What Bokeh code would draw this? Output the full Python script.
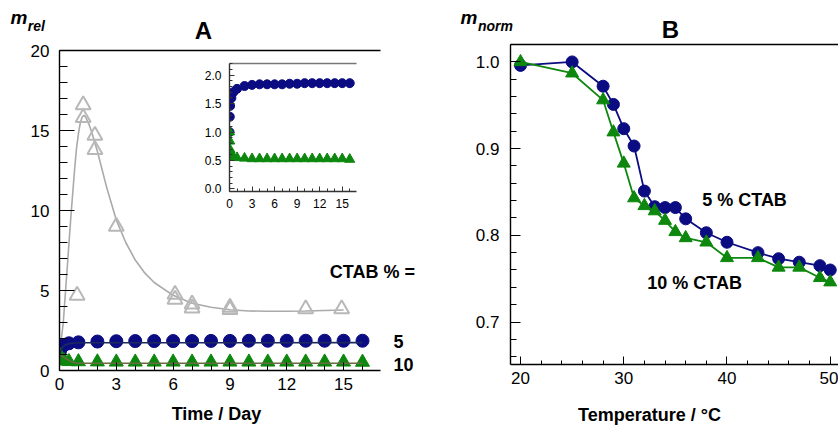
from bokeh.plotting import figure
from bokeh.layouts import column
from bokeh.models import (LinearAxis, Label, SingleIntervalTicker, FixedTicker,
                          PrintfTickFormatter, Range1d, GridBox)
from bokeh.embed import file_html
from bokeh.resources import INLINE

FONT = "Liberation Sans"

# ---------------- Panel A data (m_rel vs time) ----------------
days_ctab5 = [0, 0.04, 0.08, 0.25, 0.5, 1, 2, 3, 4, 5, 6, 7, 8, 9, 10, 11, 12, 13, 14, 15, 16]
mrel_ctab5 = [1.0, 1.27, 1.46, 1.6, 1.7, 1.76, 1.81, 1.83, 1.84, 1.84, 1.84, 1.84, 1.85, 1.85,
              1.86, 1.86, 1.86, 1.86, 1.86, 1.86, 1.86]
days_ctab10 = [0, 0.04, 0.08, 0.25, 0.5, 1, 2, 3, 4, 5, 6, 7, 8, 9, 10, 11, 12, 13, 14, 15, 16]
mrel_ctab10 = [1.0, 0.84, 0.69, 0.6, 0.56, 0.55, 0.54, 0.53, 0.53, 0.53, 0.53, 0.53, 0.53, 0.53,
               0.53, 0.53, 0.53, 0.53, 0.53, 0.53, 0.52]
days_ctab0 = [0, 0.93, 1.25, 1.25, 1.87, 1.87, 3.0, 6.1, 6.1, 7.0, 7.0, 9.0, 9.0, 13.0, 14.9]
mrel_ctab0 = [1.0, 4.7, 16.6, 15.8, 14.7, 13.8, 9.0, 4.75, 4.45, 4.15, 3.9, 3.95, 3.8, 3.85, 3.85]

fit_days_ctab0 = [0, 0.2, 0.4, 0.6, 0.8, 0.9, 1.0, 1.1, 1.2, 1.3, 1.4, 1.55, 1.7, 2.0, 2.5, 3.0,
                  3.5, 4.0, 4.5, 5.0, 6.0, 7.0, 8.0, 9.0, 10.0, 11.0, 12.0, 13.0, 14.0, 15.0]
fit_mrel_ctab0 = [1.0, 3.0, 6.3, 9.6, 12.6, 13.9, 14.8, 15.5, 15.85, 15.95, 15.8, 15.4, 14.9, 13.7,
                  11.4, 9.4, 8.0, 6.9, 6.1, 5.5, 4.7, 4.2, 3.95, 3.8, 3.72, 3.7, 3.7, 3.72, 3.75, 3.78]
fit_days_ctab5 = [0, 0.1, 0.2, 0.3, 0.5, 0.8, 1.2, 16]
fit_mrel_ctab5 = [1.0, 1.3, 1.5, 1.6, 1.68, 1.72, 1.73, 1.74]
fit_days_ctab10 = [0, 0.2, 0.4, 0.6, 0.8, 1.0, 16]
fit_mrel_ctab10 = [1.0, 0.85, 0.7, 0.57, 0.48, 0.45, 0.45]

# ---------------- Panel B data (m_norm vs temperature) ----------------
temp_ctab5 = [20, 25, 28, 29, 30, 31, 32, 33, 34, 35, 36, 38, 40, 43, 45, 47, 49, 50]
mnorm_ctab5 = [0.996, 1.0, 0.972, 0.951, 0.923, 0.903, 0.851, 0.833, 0.832, 0.832, 0.819, 0.803,
               0.792, 0.780, 0.773, 0.769, 0.765, 0.760]
temp_ctab10 = [20, 25, 28, 29, 30, 31, 32, 33, 34, 35, 36, 38, 40, 43, 45, 47, 49, 50]
mnorm_ctab10 = [1.0, 0.987, 0.956, 0.919, 0.883, 0.843, 0.834, 0.828, 0.817, 0.804, 0.797, 0.792,
                0.774, 0.774, 0.763, 0.763, 0.751, 0.746]

inset_y_labels = {0: "0.0", 0.5: "0.5", 1: "1.0", 1.5: "1.5", 2: "2.0"}

NAVY = "#0b0b82"
GREEN = "#0d870d"
GRAY = "#b8b8b8"
FIT5 = "#1c2a5c"
FIT10 = "#6b6a45"


def style_axis(ax, major_in, minor_in, size, standoff, color="black"):
    ax.axis_line_color = color
    ax.axis_line_width = 1.4
    ax.major_tick_in = major_in
    ax.major_tick_out = 0
    ax.minor_tick_in = minor_in
    ax.minor_tick_out = 0
    ax.major_tick_line_color = color
    ax.minor_tick_line_color = color
    ax.major_label_text_font = FONT
    ax.major_label_text_font_size = size
    ax.major_label_text_color = "black"
    ax.major_label_standoff = standoff


def top_line(p, color="black", width=1.4):
    ax = LinearAxis(ticker=FixedTicker(ticks=[]), major_label_text_font_size="0px",
                    major_label_standoff=0, axis_line_color=color, axis_line_width=width,
                    major_tick_line_color=None, minor_tick_line_color=None)
    p.add_layout(ax, "above")


def label(p, x, y, text, size, style="bold", align="left"):
    # y is the wanted baseline in page pixels; Bokeh places the text ~0.4 em lower
    px = float(size.replace("px", ""))
    p.add_layout(Label(x=x, y=y - 0.4 * px, text=text, text_font=FONT, text_font_size=size,
                       text_font_style=style, text_align=align, text_baseline="alphabetic",
                       text_color="black"))


# ---------------- Panel A ----------------
pA = figure(width=420, height=427, x_range=Range1d(0, 16.95), y_range=Range1d(0, 20),
            output_backend="svg", toolbar_location=None,
            min_border_left=59, min_border_right=40, min_border_top=50, min_border_bottom=57)
pA.outline_line_color = None
pA.grid.visible = False
pA.xaxis.ticker = SingleIntervalTicker(interval=3, num_minor_ticks=3)
pA.yaxis.ticker = SingleIntervalTicker(interval=5, num_minor_ticks=5)
style_axis(pA.xaxis[0], 8, 5, "17px", 7)
style_axis(pA.yaxis[0], 15, 8, "17px", 10)
top_line(pA)

pA.line(fit_days_ctab0, fit_mrel_ctab0, line_color="#aaaaaa", line_width=1.6)
pA.scatter(days_ctab0, mrel_ctab0, marker="triangle", size=15, fill_color=None,
           line_color=GRAY, line_width=2)
pA.scatter(days_ctab5, mrel_ctab5, marker="circle", size=13, fill_color=NAVY, line_color=NAVY)
pA.scatter(days_ctab10, mrel_ctab10, marker="triangle", size=14, fill_color=GREEN, line_color=GREEN)
pA.line(fit_days_ctab5, fit_mrel_ctab5, line_color=FIT5, line_width=1.6)
pA.line(fit_days_ctab10, fit_mrel_ctab10, line_color=FIT10, line_width=1.6)

# ---------------- Inset ----------------
pI = figure(width=165, height=156, x_range=Range1d(0, 16.9), y_range=Range1d(-0.045, 2.206),
            output_backend="svg", toolbar_location=None,
            min_border_left=34, min_border_right=4, min_border_top=4, min_border_bottom=24)
pI.outline_line_color = None
pI.grid.visible = False
pI.background_fill_color = None
pI.border_fill_color = None
pI.xaxis.ticker = SingleIntervalTicker(interval=3, num_minor_ticks=3)
pI.yaxis.ticker = SingleIntervalTicker(interval=0.5, num_minor_ticks=5)
pI.yaxis.major_label_overrides = inset_y_labels
style_axis(pI.xaxis[0], 5, 3, "12px", 7, "#333333")
style_axis(pI.yaxis[0], 5, 3, "12px", 8, "#333333")
top_line(pI, "#777777", 1.4)
pI.scatter(days_ctab5, mrel_ctab5, marker="circle", size=9, fill_color=NAVY, line_color=NAVY)
pI.scatter(days_ctab10, mrel_ctab10, marker="triangle", size=10, fill_color=GREEN, line_color=GREEN)

# ---------------- Panel B ----------------
pB = figure(width=418, height=427, x_range=Range1d(19.03, 50.8), y_range=Range1d(0.651, 1.0201),
            output_backend="svg", toolbar_location=None,
            min_border_left=90, min_border_right=0, min_border_top=44, min_border_bottom=63)
pB.outline_line_color = None
pB.grid.visible = False
pB.xaxis.ticker = SingleIntervalTicker(interval=10, num_minor_ticks=5)
pB.yaxis.ticker = SingleIntervalTicker(interval=0.1, num_minor_ticks=5)
pB.yaxis.formatter = PrintfTickFormatter(format="%.1f")
style_axis(pB.xaxis[0], 8, 4, "17px", 7)
style_axis(pB.yaxis[0], 10, 6, "17px", 11)
top_line(pB)

pB.line(temp_ctab5, mnorm_ctab5, line_color=NAVY, line_width=1.8)
pB.scatter(temp_ctab5, mnorm_ctab5, marker="circle", size=12, fill_color=NAVY, line_color=NAVY)
pB.line(temp_ctab10, mnorm_ctab10, line_color=GREEN, line_width=1.8)
pB.scatter(temp_ctab10, mnorm_ctab10, marker="triangle", size=13, fill_color=GREEN, line_color=GREEN)

# ---------------- Text overlay (page pixel coordinates) ----------------
pT = figure(width=838, height=427, x_range=Range1d(0, 838), y_range=Range1d(427, 0),
            x_axis_type=None, y_axis_type=None, output_backend="svg", toolbar_location=None,
            min_border=0)
pT.outline_line_color = None
pT.background_fill_color = None
pT.border_fill_color = None
pT.grid.visible = False

label(pT, 10, 25, "m", "19px", "bold italic")
label(pT, 27.3, 31, "rel", "14px", "bold italic")
label(pT, 203, 40, "A", "24px", "bold", "center")
label(pT, 329.3, 278.3, "CTAB % =", "18px")
label(pT, 393, 348.3, "5", "18px")
label(pT, 393, 371, "10", "18px")
label(pT, 216, 421, "Time / Day", "18px", "bold", "center")
label(pT, 460, 25, "m", "19px", "bold italic")
label(pT, 477.5, 31.5, "norm", "14px", "bold italic")
label(pT, 670, 38.3, "B", "24px", "bold", "center")
label(pT, 701.7, 206.7, "5 % CTAB", "18px")
label(pT, 646.7, 290, "10 % CTAB", "18px")
label(pT, 649, 422, "Temperature / °C", "18px", "bold", "center")

layout = GridBox(children=[(pA, 0, 0, 3, 3), (pI, 1, 1, 1, 1), (column(pB), 0, 3, 3, 1),
                           (column(pT), 0, 0, 3, 4)],
                 rows=["59px", "156px", "212px"], cols=["195px", "165px", "60px", "418px"])
open("out.html", "w").write(file_html(layout, INLINE))
